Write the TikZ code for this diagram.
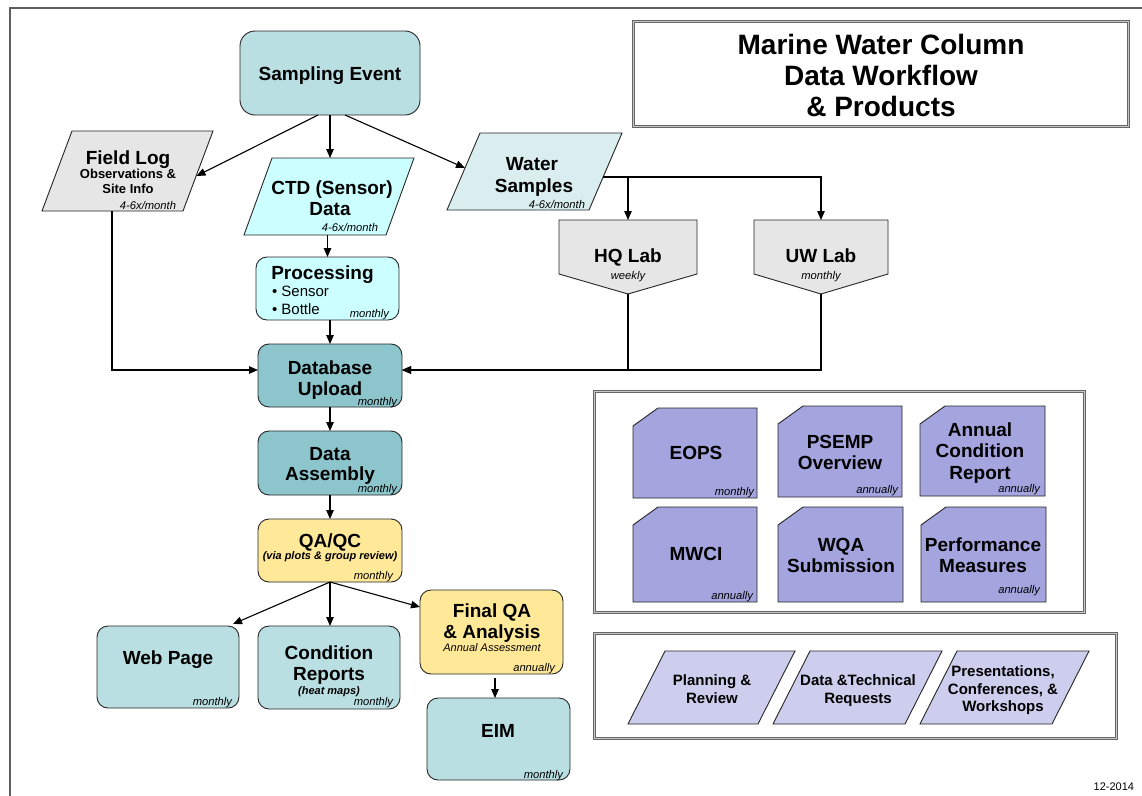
\documentclass[tikz,border=0pt]{standalone}
\usepackage{fontspec}
\setmainfont{Liberation Sans}
\usetikzlibrary{arrows.meta,calc}
\definecolor{tealA}{HTML}{BADFE2}
\definecolor{tealB}{HTML}{8CC6CC}
\definecolor{cyanA}{HTML}{CCFFFF}
\definecolor{wsA}{HTML}{DAEEF0}
\definecolor{greyA}{HTML}{E6E6E6}
\definecolor{yelA}{HTML}{FFE999}
\definecolor{prodA}{HTML}{A4A4DF}
\definecolor{actA}{HTML}{CDCDEE}
\definecolor{frameA}{HTML}{5E5E5E}
\newcommand\fH{\fontsize{19}{21}\selectfont\bfseries}
\newcommand\fT{\fontsize{28}{31}\selectfont\bfseries}
\newcommand\fS{\fontsize{13}{15}\selectfont\bfseries}
\newcommand\fR{\fontsize{15}{18}\selectfont}
\newcommand\fI{\fontsize{11.2}{13}\selectfont\itshape}
\newcommand\fBI{\fontsize{11}{13}\selectfont\bfseries\itshape}
\newcommand\fII{\fontsize{11}{13}\selectfont\itshape}
\newcommand\fA{\fontsize{15}{18}\selectfont\bfseries}
\newcommand\fD{\fontsize{11}{13}\selectfont}
% text line: name, x, baseline y, font, text
\newcommand\TL[5]{\node[txt,font=#4] (#1) at (#2,#3) {#5};}
\newcommand\TR[5]{\node[txr,font=#4] (#1) at (#2,#3) {#5};}
\newcommand\TW[5]{\node[txw,font=#4] (#1) at (#2,#3) {#5};}
% parallelogram on area node: name, slant, fill
\newcommand\PARA[3]{\filldraw[shp,fill=#3] ($(#1.south west)+(-#2/2,0)$) -- ($(#1.south east)+(-#2/2,0)$) -- ($(#1.north east)+(#2/2,0)$) -- ($(#1.north west)+(#2/2,0)$) -- cycle;}
\newcommand\CARD[1]{\filldraw[shp,fill=prodA] ($(#1.north west)+(25,0)$) -- (#1.north east) -- (#1.south east) -- (#1.south west) -- ($(#1.north west)+(0,18)$) -- cycle;}
\newcommand\PENT[1]{\filldraw[shp,fill=greyA] (#1.north west) -- (#1.north east) -- ($(#1.south east)+(0,-20)$) -- (#1.south) -- ($(#1.south west)+(0,-20)$) -- cycle;}
\begin{document}
\begin{tikzpicture}[x=1pt,y=-1pt,
  box/.style={draw=black!85, line width=0.9pt, inner sep=0pt, outer sep=0pt, rounded corners=11pt},
  area/.style={inner sep=0pt, outer sep=0pt, draw=none},
  shp/.style={draw=black!85, line width=0.9pt},
  arr/.style={line width=1.1pt, -{Triangle[length=9pt,width=7.5pt]}},
  txt/.style={inner sep=0pt, outer sep=0pt, anchor=base},
  txr/.style={inner sep=0pt, outer sep=0pt, anchor=base east},
  txw/.style={inner sep=0pt, outer sep=0pt, anchor=base west},
  dframe/.style={draw=black!60, double=black!22, double distance=1.2pt, line width=0.9pt, inner sep=0pt, fill=white},
]
\useasboundingbox (0,0) rectangle (1142,795);
\fill[white] (0,0) rectangle (1142,795);
% outer frame
\draw[frameA, line width=2.5pt] (10,800) -- (10,8) -- (1150,8);

% title
\node[dframe, minimum width=495pt, minimum height=105pt] (tb) at (881,74) {};
\TL{t1}{881}{54}{\fT}{Marine Water Column}
\TL{t2}{881}{85}{\fT}{Data Workflow}
\TL{t3}{881}{116}{\fT}{\& Products}

% frames
\node[dframe, minimum width=490pt, minimum height=221pt] (pf) at (839.5,502) {};
\node[dframe, minimum width=522pt, minimum height=105pt] (af) at (855.5,686) {};

% rounded boxes
\node[box, fill=tealA, rounded corners=15pt, minimum width=180pt, minimum height=84pt] (se) at (330,73) {};
\node[box, fill=cyanA, minimum width=143pt, minimum height=63pt] (proc) at (327.5,288.5) {};
\node[box, fill=tealB, minimum width=144pt, minimum height=63pt] (db) at (330,375.5) {};
\node[box, fill=tealB, minimum width=144pt, minimum height=64pt] (da) at (330,463) {};
\node[box, fill=yelA, minimum width=144pt, minimum height=63pt] (qa) at (330,550.5) {};
\node[box, fill=tealA, minimum width=142pt, minimum height=82pt] (wp) at (168,667) {};
\node[box, fill=tealA, minimum width=142pt, minimum height=83pt] (cr) at (329,667.5) {};
\node[box, fill=yelA, minimum width=143pt, minimum height=84pt] (fq) at (491.5,632) {};
\node[box, fill=tealA, minimum width=143pt, minimum height=82pt] (eim) at (498.5,739) {};

% parallelograms
\node[area, minimum width=141pt, minimum height=80pt] (fl) at (127.5,171) {};
\PARA{fl}{30}{greyA}
\node[area, minimum width=142pt, minimum height=77pt] (ctd) at (329,196.5) {};
\PARA{ctd}{28}{cyanA}
\node[area, minimum width=142pt, minimum height=77pt] (ws) at (534.5,171.5) {};
\PARA{ws}{33}{wsA}
\node[area, minimum width=130pt, minimum height=73pt] (a1) at (711.5,687.5) {};
\PARA{a1}{37}{actA}
\node[area, minimum width=132pt, minimum height=73pt] (a2) at (857.5,687.5) {};
\PARA{a2}{37}{actA}
\node[area, minimum width=132pt, minimum height=73pt] (a3) at (1004.5,687.5) {};
\PARA{a3}{37}{actA}

% labs
\node[area, minimum width=138pt, minimum height=74pt] (hq) at (628,257) {};
\PENT{hq}
\node[area, minimum width=134pt, minimum height=74pt] (uw) at (821,257) {};
\PENT{uw}

% product cards
\node[area, minimum width=124pt, minimum height=90pt] (p1) at (695,453) {};
\CARD{p1}
\node[area, minimum width=124pt, minimum height=91pt] (p2) at (840,451.5) {};
\CARD{p2}
\node[area, minimum width=125pt, minimum height=90pt] (p3) at (982.5,451) {};
\CARD{p3}
\node[area, minimum width=124pt, minimum height=95pt] (p4) at (695,554.5) {};
\CARD{p4}
\node[area, minimum width=125pt, minimum height=95pt] (p5) at (840.5,554.5) {};
\CARD{p5}
\node[area, minimum width=125pt, minimum height=95pt] (p6) at (983.5,554.5) {};
\CARD{p6}

% connectors
\draw[arr] ([xshift=-12pt]se.south) -- ([yshift=-5pt,xshift=-1.5pt]fl.east);
\draw[arr] (se.south) -- (se.south |- ctd.north);
\draw[arr] ([xshift=15pt]se.south) -- ([yshift=3.5pt,xshift=1.5pt]ws.west);
\draw[arr] ([yshift=-5.5pt,xshift=-2.5pt]ws.east) -| (hq.north);
\draw[arr] ([yshift=-5.5pt,xshift=-2.5pt]ws.east) -| (uw.north);
\draw[arr] ([xshift=-15.5pt]fl.south) |- ([yshift=5.5pt]db.west);
\draw[arr] (hq.south) |- ([yshift=5.5pt]db.east);
\draw[arr] (uw.south) |- ([yshift=5.5pt]db.east);
\draw[arr] (ctd.south -| proc.north) -- (proc.north);
\draw[arr] (proc.south -| db.north) -- (db.north);
\draw[arr] (db.south) -- (da.north);
\draw[arr] (da.south) -- (qa.north);
\draw[arr] (qa.south) -- ([xshift=65pt,yshift=2pt]wp.north);
\draw[arr] (qa.south) -- (qa.south |- cr.north);
\draw[arr] (qa.south) -- ([yshift=25pt]fq.west);
\draw[arr] ([xshift=3.5pt,yshift=-4pt]fq.south) -- ([xshift=3.5pt]fq.south |- eim.north);

% texts
\TL{s1}{330}{80}{\fH}{Sampling Event}
\TL{f1}{128}{164}{\fH}{Field Log}
\TL{f2}{128}{178.5}{\fS}{Observations \&}
\TL{f3}{128}{193.5}{\fS}{Site Info}
\TR{f4}{176}{209}{\fI}{4-6x/month}
\TL{c1}{332}{194.5}{\fH}{CTD (Sensor)}
\TL{c2}{330}{215}{\fH}{Data}
\TR{c3}{378}{231}{\fI}{4-6x/month}
\TL{w1}{532}{170}{\fH}{Water}
\TL{w2}{534}{192}{\fH}{Samples}
\TR{w3}{585}{208}{\fI}{4-6x/month}
\TL{h1}{628}{262}{\fH}{HQ Lab}
\TL{h2}{628}{279}{\fI}{weekly}
\TL{u1}{821}{262}{\fH}{UW Lab}
\TL{u2}{821}{279}{\fI}{monthly}
\TL{r1}{322.5}{279}{\fH}{Processing}
\TW{r2}{272}{296.5}{\fR}{\textbullet\ Sensor}
\TW{r3}{272}{314.5}{\fR}{\textbullet\ Bottle}
\TR{r4}{389}{317.5}{\fI}{monthly}
\TL{d1}{330}{374}{\fH}{Database}
\TL{d2}{330}{395}{\fH}{Upload}
\TR{d3}{397}{405}{\fI}{monthly}
\TL{e1}{330}{460}{\fH}{Data}
\TL{e2}{330}{480}{\fH}{Assembly}
\TR{e3}{397}{492}{\fI}{monthly}
\TL{q1}{330}{547}{\fH}{QA/QC}
\TL{q2}{330}{559}{\fBI}{(via plots \& group review)}
\TR{q3}{393}{579}{\fI}{monthly}
\TL{g1}{168}{664}{\fH}{Web Page}
\TR{g2}{232}{705}{\fI}{monthly}
\TL{k1}{329}{659}{\fH}{Condition}
\TL{k2}{329}{680}{\fH}{Reports}
\TL{k3}{329}{694}{\fBI}{(heat maps)}
\TR{k4}{393}{705}{\fI}{monthly}
\TL{z1}{492}{617}{\fH}{Final QA}
\TL{z2}{492}{638}{\fH}{\& Analysis}
\TL{z3}{492}{651}{\fII}{Annual Assessment}
\TR{z4}{555}{671}{\fI}{annually}
\TL{m1}{498}{737}{\fH}{EIM}
\TR{m2}{563}{778}{\fI}{monthly}
\TL{o1}{696}{459}{\fH}{EOPS}
\TR{o2}{754}{495}{\fI}{monthly}
\TL{o3}{840}{448}{\fH}{PSEMP}
\TL{o4}{840}{469}{\fH}{Overview}
\TR{o5}{898}{493}{\fI}{annually}
\TL{o6}{980}{436}{\fH}{Annual}
\TL{o7}{980}{457}{\fH}{Condition}
\TL{o8}{980}{479}{\fH}{Report}
\TR{o9}{1040}{492}{\fI}{annually}
\TL{n1}{696}{560}{\fH}{MWCI}
\TR{n2}{753}{599}{\fI}{annually}
\TL{n3}{841}{551}{\fH}{WQA}
\TL{n4}{841}{572}{\fH}{Submission}
\TL{n5}{983}{551}{\fH}{Performance}
\TL{n6}{983}{572}{\fH}{Measures}
\TR{n7}{1040}{593}{\fI}{annually}
\TL{v1}{712}{685.4}{\fA}{Planning \&}
\TL{v2}{712}{703.4}{\fA}{Review}
\TL{v3}{858}{685.4}{\fA}{Data \&Technical}
\TL{v4}{858}{703.4}{\fA}{Requests}
\TL{v5}{1003}{676.4}{\fA}{Presentations,}
\TL{v6}{1003}{694.4}{\fA}{Conferences, \&}
\TL{v7}{1003}{711.4}{\fA}{Workshops}
\TR{dt}{1134}{790}{\fD}{12-2014}
\end{tikzpicture}
\end{document}
